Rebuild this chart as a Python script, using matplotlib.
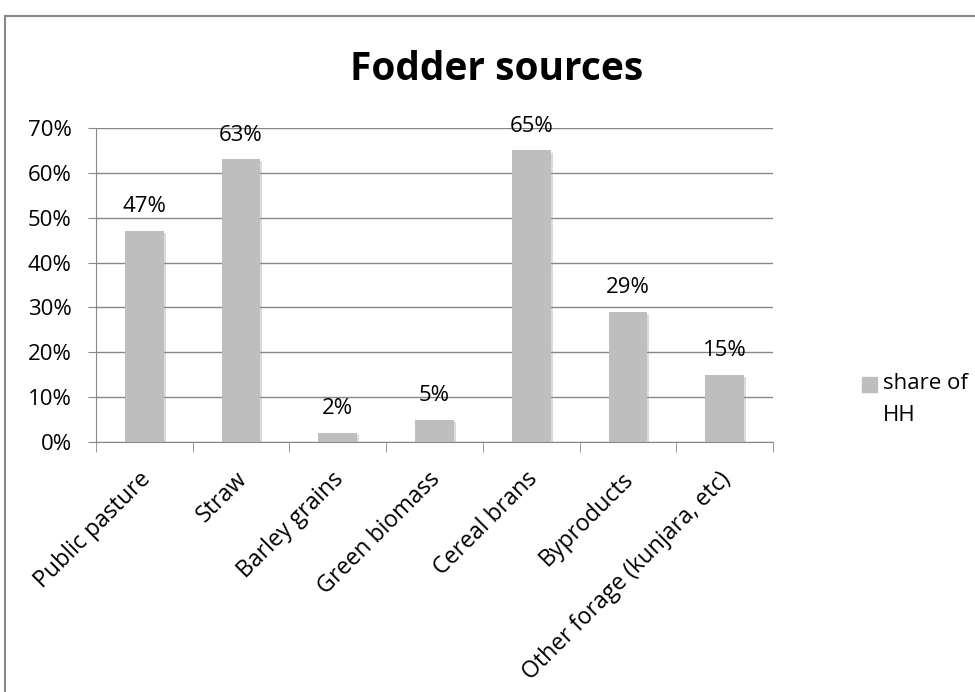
import matplotlib.pyplot as plt
import matplotlib.patheffects as pe
from matplotlib.patches import Rectangle
from matplotlib.ticker import PercentFormatter, FixedLocator
from matplotlib.transforms import ScaledTranslation

categories = ['Public pasture', 'Straw', 'Barley grains', 'Green biomass',
              'Cereal brans', 'Byproducts', 'Other forage (kunjara, etc)']
share_of_hh = [47, 63, 2, 5, 65, 29, 15]
y_ticks = [0, 10, 20, 30, 40, 50, 60, 70]

plt.rcParams['font.family'] = ['Open Sans', 'DejaVu Sans']

W, H = 975, 692
GRID = '#878787'
BAR = '#bebebe'

fig = plt.figure(figsize=(W / 100, H / 100), dpi=100)

# chart border (only top and left edges fall inside the canvas)
fig.patches.append(Rectangle((5 / W, -0.1), 1.2, 1 - 16 / H + 0.1,
                             transform=fig.transFigure, fill=False,
                             edgecolor=GRID, linewidth=1.5))

ax = fig.add_axes([96 / W, 1 - 442 / H, (773 - 96) / W, (442 - 128) / H])
x = range(len(categories))
bars = ax.bar(x, share_of_hh, width=0.4, color=BAR, zorder=3)
for b in bars:
    b.set_path_effects([pe.SimplePatchShadow(offset=(1.5, -1.5),
                                             shadow_rgbFace='#999999',
                                             alpha=0.35),
                        pe.Normal()])

for b, v in zip(bars, share_of_hh):
    ax.text(b.get_x() + b.get_width() / 2, v + 4.2, f'{v}%',
            ha='center', va='baseline', fontsize=16)

ax.set_xlim(-0.5, len(categories) - 0.5)
ax.set_ylim(0, 70)
ax.yaxis.set_major_locator(FixedLocator(y_ticks))
ax.yaxis.set_major_formatter(PercentFormatter(decimals=0))
ax.grid(axis='y', color=GRID, linewidth=1, zorder=0)
for side in ['top', 'right']:
    ax.spines[side].set_visible(False)
ax.spines['left'].set_color(GRID)
ax.spines['bottom'].set_color(GRID)

ax.tick_params(axis='y', length=6, color=GRID, labelsize=16, pad=11.5)
ax.set_xticks(x)
ax.set_xticklabels(categories, rotation=45, ha='right', va='top',
                   rotation_mode='anchor', fontsize=16.7)
ax.tick_params(axis='x', length=0, pad=18)
shift = ScaledTranslation(-6 / 100, 0, fig.dpi_scale_trans)
for lbl in ax.get_xticklabels():
    lbl.set_transform(lbl.get_transform() + shift)
ax.set_xticks([i - 0.5 for i in range(len(categories) + 1)], minor=True)
ax.tick_params(axis='x', which='minor', length=7, color=GRID)

fig.text(497 / W, 1 - 80 / H, 'Fodder sources', ha='center', va='baseline',
         fontsize=28, fontweight='bold')

# legend
fig.patches.append(Rectangle((862 / W, 1 - 392 / H), 15 / W, 15 / H,
                             transform=fig.transFigure, color=BAR))
fig.text(883 / W, 1 - 373 / H, 'share of\nHH', ha='left', va='top',
         fontsize=16, linespacing=1.68)

fig.savefig('out.png', dpi=100)
